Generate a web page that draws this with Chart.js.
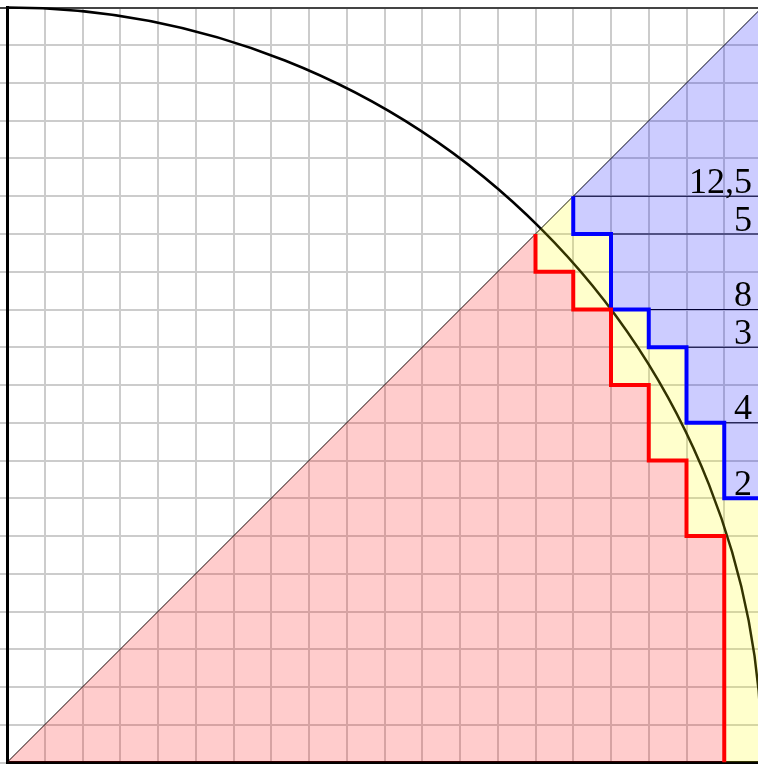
<!DOCTYPE html>
<html>
<head>
<meta charset="utf-8">
<script src="https://cdn.jsdelivr.net/npm/chart.js@4"></script>
<style>
  html, body { margin: 0; padding: 0; overflow: hidden; background: #fff; }
  #wrap { width: 770px; height: 765px; }
</style>
</head>
<body>
<div id="wrap"><canvas id="squareChart"></canvas></div>
<script>
// grid size and circle
const gridMax = 20;
const circleRadius = 20;

// red staircase (inner squares), starts at origin along the diagonal
const redX = [0, 14, 14, 15, 15, 16, 16, 17, 17, 18, 18, 19, 19];
const redY = [0, 14, 13, 13, 12, 12, 10, 10, 8, 8, 6, 6, 0];

// blue staircase (outer squares)
const blueX = [0, 15, 15, 16, 16, 17, 17, 18, 18, 19, 19, 20];
const blueY = [0, 15, 14, 14, 12, 12, 11, 11, 9, 9, 7, 7];

// diagonal y = x
const diagX = [0, 20];
const diagY = [0, 20];

// thin strip lines to the right of the blue steps
const stripY = [15, 14, 12, 11, 9];
const stripStartX = [15, 16, 17, 18, 19];

// numbers written at the right edge
const labelText = ['12,5', '5', '8', '3', '4', '2'];
const labelY = [15, 14, 12, 11, 9, 7];

function pts(xs, ys) {
  return xs.map((x, i) => ({ x: x, y: ys[i] }));
}

const redStroke = pts(redX, redY).slice(1);
const blueStroke = pts(blueX, blueY).slice(1);
const redBoundary = pts(redX, redY).concat([{ x: gridMax, y: 0 }]);
const blueBoundary = pts(blueX, blueY).concat([{ x: gridMax, y: 0 }]);
const diagLine = pts(diagX, diagY);

const base = {
  pointRadius: 0,
  tension: 0,
  borderJoinStyle: 'miter',
  borderCapStyle: 'butt',
};

const datasets = [
  { ...base, data: redStroke, borderColor: '#ff0000', borderWidth: 4, fill: false },
  { ...base, data: blueStroke, borderColor: '#0000ff', borderWidth: 4, fill: false },
  { ...base, data: redBoundary, borderWidth: 0, borderColor: 'rgba(0,0,0,0)',
    fill: 'origin', backgroundColor: 'rgba(255,0,0,0.2)' },
  { ...base, data: blueBoundary, borderWidth: 0, borderColor: 'rgba(0,0,0,0)',
    fill: 2, backgroundColor: 'rgba(255,255,0,0.2)' },
  { ...base, data: diagLine, borderWidth: 0, borderColor: 'rgba(0,0,0,0)',
    fill: 3, backgroundColor: 'rgba(0,0,255,0.2)' },
  { ...base, data: diagLine, borderColor: '#000', borderWidth: 1, fill: false },
];

stripY.forEach((y, i) => {
  datasets.push({
    ...base,
    data: [{ x: stripStartX[i], y: y }, { x: gridMax, y: y }],
    borderColor: '#000',
    borderWidth: 1.2,
    fill: false,
  });
});

// quarter circle drawn under the fills, using the chart's scales
const arcPlugin = {
  id: 'quarterArc',
  beforeDatasetsDraw(chart) {
    const xs = chart.scales.x;
    const ys = chart.scales.y;
    const cx = xs.getPixelForValue(0);
    const cy = ys.getPixelForValue(0);
    const rx = xs.getPixelForValue(circleRadius) - cx;
    const ry = cy - ys.getPixelForValue(circleRadius);
    const ctx = chart.ctx;
    ctx.save();
    ctx.beginPath();
    ctx.ellipse(cx, cy, rx, ry, 0, -Math.PI / 2, 0);
    ctx.strokeStyle = '#000';
    ctx.lineWidth = 2.5;
    ctx.stroke();
    ctx.restore();
  },
};

const labelPlugin = {
  id: 'stripLabels',
  afterDatasetsDraw(chart) {
    const xs = chart.scales.x;
    const ys = chart.scales.y;
    const ctx = chart.ctx;
    ctx.save();
    ctx.fillStyle = '#000';
    ctx.font = '36px "Liberation Serif", serif';
    ctx.textAlign = 'right';
    ctx.textBaseline = 'alphabetic';
    labelText.forEach((t, i) => {
      ctx.fillText(t, xs.getPixelForValue(gridMax) - 10, ys.getPixelForValue(labelY[i]) - 3.5);
    });
    ctx.restore();
  },
};

new Chart(document.getElementById('squareChart'), {
  type: 'line',
  data: { datasets: datasets },
  plugins: [arcPlugin, labelPlugin],
  options: {
    responsive: true,
    maintainAspectRatio: false,
    animation: false,
    devicePixelRatio: 1,
    events: [],
    layout: { padding: { left: 0, right: 8, top: 7.5, bottom: 2.5 } },
    plugins: {
      legend: { display: false },
      tooltip: { enabled: false },
    },
    scales: {
      x: {
        type: 'linear',
        min: 0,
        max: gridMax,
        ticks: { display: false, stepSize: 1 },
        grid: { color: '#cccccc', lineWidth: 2, drawTicks: false },
        border: { display: true, color: '#000', width: 3 },
      },
      y: {
        type: 'linear',
        min: 0,
        max: gridMax,
        ticks: { display: false, stepSize: 1 },
        grid: {
          color: (c) => (c.tick && c.tick.value === gridMax ? '#444444' : '#cccccc'),
          lineWidth: 2,
          drawTicks: true,
          tickLength: 7,
        },
        border: { display: true, color: '#000', width: 3 },
      },
    },
  },
});
</script>
</body>
</html>
